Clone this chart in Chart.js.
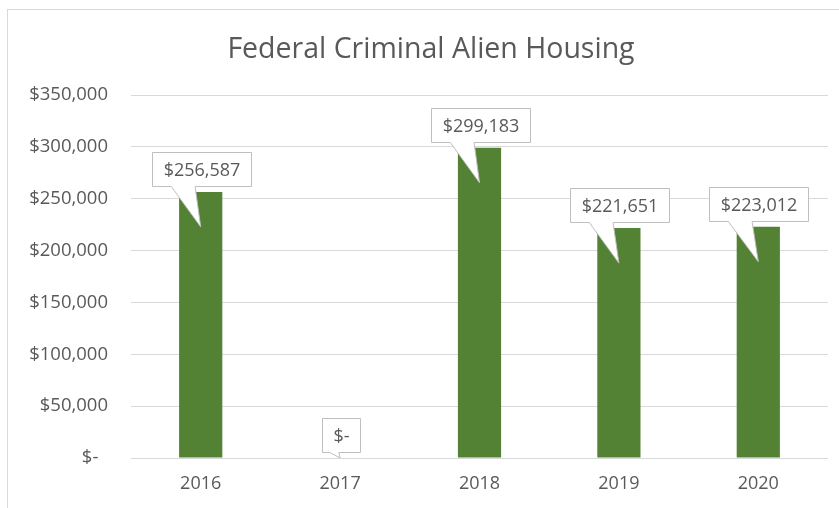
<!DOCTYPE html>
<html>
<head>
<meta charset="utf-8">
<script src="https://cdn.jsdelivr.net/npm/chart.js@4"></script>
<style>
  html, body { margin: 0; padding: 0; background: #fff; }
  #wrap { width: 839px; height: 508px; }
</style>
</head>
<body>
<div id="wrap"><canvas id="housingChart" width="839" height="508"></canvas></div>
<script>
// chart data
const chartTitle = 'Federal Criminal Alien Housing';
const years = ['2016', '2017', '2018', '2019', '2020'];
const housingCost = [256587, 0, 299183, 221651, 223012];
const yTicks = [0, 50000, 100000, 150000, 200000, 250000, 300000, 350000];

const FONT = "'Open Sans', 'Liberation Sans', sans-serif";
const TEXT_COLOR = '#595959';

// excel accounting style: zero shows as "$-"
function money(v, pad) {
  if (v === 0) return pad ? '$-  ' : '$-';
  return '$' + v.toLocaleString('en-US');
}

// outer frame of the chart object + title (centred on the whole frame, not the canvas)
const framePlugin = {
  id: 'frame',
  beforeDraw(chart) {
    const ctx = chart.ctx;
    ctx.save();
    ctx.fillStyle = '#fff';
    ctx.fillRect(0, 0, chart.width, chart.height);
    ctx.strokeStyle = '#d9d9d9';
    ctx.lineWidth = 1;
    ctx.strokeRect(7.5, 9.5, chart.width + 20, chart.height + 20);

    ctx.font = '28.5px ' + FONT;
    ctx.fillStyle = TEXT_COLOR;
    ctx.textAlign = 'center';
    ctx.textBaseline = 'middle';
    ctx.fillText(chartTitle, 431, 50);
    ctx.restore();
  }
};

// white data callouts with a pointer down into each bar
const calloutPlugin = {
  id: 'callouts',
  afterDatasetsDraw(chart) {
    const ctx = chart.ctx;
    const meta = chart.getDatasetMeta(0);
    const base = chart.scales.y.getPixelForValue(0);
    ctx.save();
    ctx.font = '18px ' + FONT;
    meta.data.forEach((bar, i) => {
      const label = money(housingCost[i], false);
      const w = Math.round(ctx.measureText(label).width) + 22;
      const h = 34;
      const cx = bar.x + 0.5;
      const left = Math.round(cx - w / 2) + 0.5;
      const right = left + w;
      const bottom = Math.round(bar.y - 6) + 0.5;
      const top = bottom - h;
      const tipY = Math.min(bar.y + 35, base);
      const bl = left + w * 0.19;
      const br = left + w * 0.43;

      ctx.beginPath();
      ctx.moveTo(left, top);
      ctx.lineTo(right, top);
      ctx.lineTo(right, bottom);
      ctx.lineTo(br, bottom);
      ctx.lineTo(bar.x, tipY);
      ctx.lineTo(bl, bottom);
      ctx.lineTo(left, bottom);
      ctx.closePath();
      ctx.fillStyle = '#fff';
      ctx.fill();
      ctx.strokeStyle = '#bfbfbf';
      ctx.lineWidth = 1;
      ctx.stroke();

      ctx.fillStyle = TEXT_COLOR;
      ctx.textAlign = 'center';
      ctx.textBaseline = 'middle';
      ctx.fillText(label, left + w / 2, top + h / 2 + 1);
    });
    ctx.restore();
  }
};

const ctx = document.getElementById('housingChart').getContext('2d');
const housingChart = new Chart(ctx, {
  type: 'bar',
  data: {
    labels: years,
    datasets: [{
      data: housingCost,
      backgroundColor: '#548235',
      borderWidth: 0,
      categoryPercentage: 1,
      barPercentage: 0.31
    }]
  },
  options: {
    responsive: false,
    animation: false,
    devicePixelRatio: 1,
    layout: { padding: { left: 0, right: 11, top: 95, bottom: 14 } },
    plugins: {
      legend: { display: false },
      tooltip: { enabled: false },
      title: { display: false }
    },
    scales: {
      x: {
        afterFit(scale) { scale.height = 36; },
        grid: { display: false, drawTicks: false },
        border: { display: false },
        ticks: { color: TEXT_COLOR, font: { family: FONT, size: 18 }, padding: 15 }
      },
      y: {
        min: 0,
        max: 350000,
        afterBuildTicks(scale) {
          scale.ticks = yTicks.map(v => ({ value: v }));
        },
        afterFit(scale) { scale.width = 131; },
        grid: { color: '#d9d9d9', lineWidth: 1, drawTicks: false },
        border: { display: false },
        ticks: {
          color: TEXT_COLOR,
          font: { family: FONT, size: 18.5 },
          padding: 23,
          callback: v => money(v, true)
        }
      }
    }
  },
  plugins: [framePlugin, calloutPlugin]
});
</script>
</body>
</html>
